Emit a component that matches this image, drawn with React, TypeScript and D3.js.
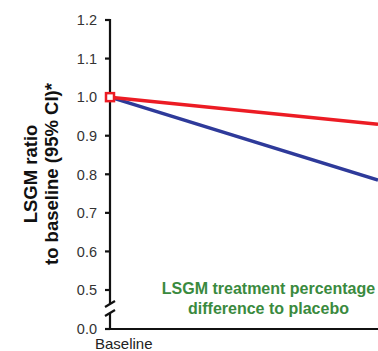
import * as d3 from "d3";
import React, { useEffect, useRef } from "react";

// time points (weeks); only baseline is labelled in the visible crop
const timePoints = [0, 8];
const xLabels = ["Baseline"];
const placebo = [1.0, 0.93];
const treatment = [1.0, 0.785];
const yTicks = [0.0, 0.5, 0.6, 0.7, 0.8, 0.9, 1.0, 1.1, 1.2];

const W = 378;
const H = 351;

export default function App() {
  const ref = useRef<SVGSVGElement | null>(null);

  useEffect(() => {
    if (!ref.current) return;
    const svg = d3.select(ref.current);
    svg.selectAll("*").remove();

    const x0 = 110;
    const x = d3.scaleLinear().domain([0, 8]).range([x0, W]);
    // broken axis: 0.0 sits below the break, 0.5-1.2 above it
    const y = d3.scaleLinear().domain([0, 0.5, 1.2]).range([329, 290, 20]);

    const font = "Arial, 'Liberation Sans', sans-serif";

    // y axis pieces with break
    const ax = svg.append("g").attr("stroke", "#111").attr("stroke-width", 2.2);
    ax.append("line").attr("x1", x0).attr("x2", x0).attr("y1", y(1.2) - 1).attr("y2", 304);
    ax.append("line").attr("x1", x0).attr("x2", x0).attr("y1", 313).attr("y2", y(0) + 1);
    ax.append("line").attr("x1", x0 - 5).attr("x2", x0 + 5).attr("y1", 307).attr("y2", 301);
    ax.append("line").attr("x1", x0 - 5).attr("x2", x0 + 5).attr("y1", 316).attr("y2", 310);
    // x axis
    ax.append("line").attr("x1", x0 - 1).attr("x2", W).attr("y1", y(0)).attr("y2", y(0));

    // y ticks
    const tg = svg.append("g");
    tg.selectAll("line")
      .data(yTicks)
      .join("line")
      .attr("x1", x0 - 5)
      .attr("x2", x0)
      .attr("y1", (d) => y(d))
      .attr("y2", (d) => y(d))
      .attr("stroke", "#111")
      .attr("stroke-width", 2.2);
    tg.selectAll("text")
      .data(yTicks)
      .join("text")
      .attr("x", x0 - 13)
      .attr("y", (d) => y(d))
      .attr("dy", "0.36em")
      .attr("text-anchor", "end")
      .attr("font-family", font)
      .attr("font-size", 14.5)
      .attr("fill", "#333")
      .text((d) => d.toFixed(1));

    // x tick label
    svg
      .append("g")
      .selectAll("text")
      .data(xLabels)
      .join("text")
      .attr("x", (_, i) => x(timePoints[i]) - 15)
      .attr("y", 349)
      .attr("font-family", font)
      .attr("font-size", 15)
      .attr("fill", "#222")
      .text((d) => d);

    // y axis title
    const yt = svg
      .append("text")
      .attr("transform", `translate(0,174) rotate(-90)`)
      .attr("text-anchor", "middle")
      .attr("font-family", font)
      .attr("font-size", 18.5)
      .attr("font-weight", "bold")
      .attr("fill", "#111");
    yt.append("tspan").attr("x", 0).attr("y", 37).text("LSGM ratio");
    yt.append("tspan").attr("x", 0).attr("y", 58).text("to baseline (95% CI)*");

    const line = d3
      .line<number>()
      .x((_, i) => x(timePoints[i]))
      .y((d) => y(d));

    svg
      .append("path")
      .datum(treatment)
      .attr("d", line)
      .attr("fill", "none")
      .attr("stroke", "#2e3a9a")
      .attr("stroke-width", 3.5);
    svg
      .append("path")
      .datum(placebo)
      .attr("d", line)
      .attr("fill", "none")
      .attr("stroke", "#ec1c24")
      .attr("stroke-width", 3.5);

    // baseline marker
    svg
      .append("rect")
      .attr("x", x(0) - 4)
      .attr("y", y(1.0) - 4)
      .attr("width", 8)
      .attr("height", 8)
      .attr("fill", "#fff")
      .attr("stroke", "#ec1c24")
      .attr("stroke-width", 2.5);

    // annotation
    const ann = svg
      .append("text")
      .attr("text-anchor", "middle")
      .attr("font-family", font)
      .attr("font-size", 16)
      .attr("font-weight", "bold")
      .attr("fill", "#3a8a3e");
    ann.append("tspan").attr("x", 268.5).attr("y", 294).text("LSGM treatment percentage");
    ann.append("tspan").attr("x", 268.5).attr("y", 314).text("difference to placebo");
  }, []);

  return (
    <svg
      ref={ref}
      width={W}
      height={H}
      style={{ position: "absolute", left: 0, top: 0, background: "#fff" }}
    />
  );
}
